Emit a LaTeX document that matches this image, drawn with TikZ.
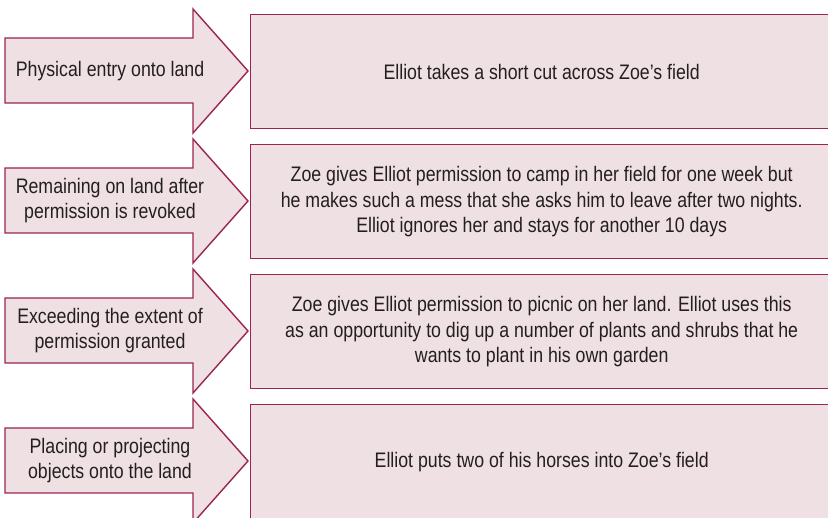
\documentclass[tikz,border=0pt]{standalone}
\usepackage{fontspec}
\setmainfont{Liberation Sans}[FakeStretch=0.845]
\definecolor{panelfill}{HTML}{EFE0E3}
\definecolor{panelline}{HTML}{9C2453}
\definecolor{inktext}{HTML}{231F20}
\tikzset{
  x=1pt, y=-1pt,
  panel/.style={draw=panelline, fill=panelfill, line width=1.4pt, line join=miter},
  arrowlabel/.style={text=inktext, align=center, inner sep=0pt, font=\fontsize{21}{25}\selectfont},
  example/.style={panel, anchor=north west, minimum width=582pt, minimum height=114pt,
    inner sep=0pt, text=inktext, align=center, font=\fontsize{21}{25.5}\selectfont},
}
\begin{document}
\begin{tikzpicture}
\useasboundingbox (0,0) rectangle (828,518);
% one row per kind of trespass: arrow with category, box with example
\foreach \i/\cat/\ex in {
  1/{Physical entry onto land}/{Elliot takes a short cut across Zoe’s field},
  2/{Remaining on land after\\permission is revoked}/{Zoe gives Elliot permission to camp in her field for one week but\\he makes such a mess that she asks him to leave after two nights.\\Elliot ignores her and stays for another 10 days},
  3/{Exceeding the extent of\\permission granted}/{Zoe gives Elliot permission to picnic on her land. Elliot uses this\\as an opportunity to dig up a number of plants and shrubs that he\\wants to plant in his own garden},
  4/{Placing or projecting\\objects onto the land}/{Elliot puts two of his horses into Zoe’s field}}{
  \pgfmathsetmacro{\cy}{71+130*(\i-1)}
  \draw[panel] (5,\cy-33) -- (193,\cy-33) -- (193,\cy-62) -- (248,\cy)
    -- (193,\cy+62) -- (193,\cy+32) -- (5,\cy+32) -- cycle;
  \node[arrowlabel] (cat\i) at (110,\cy) {\cat};
  \node[example] (ex\i) at (250,\cy-57) {\ex};
}
\end{tikzpicture}
\end{document}
